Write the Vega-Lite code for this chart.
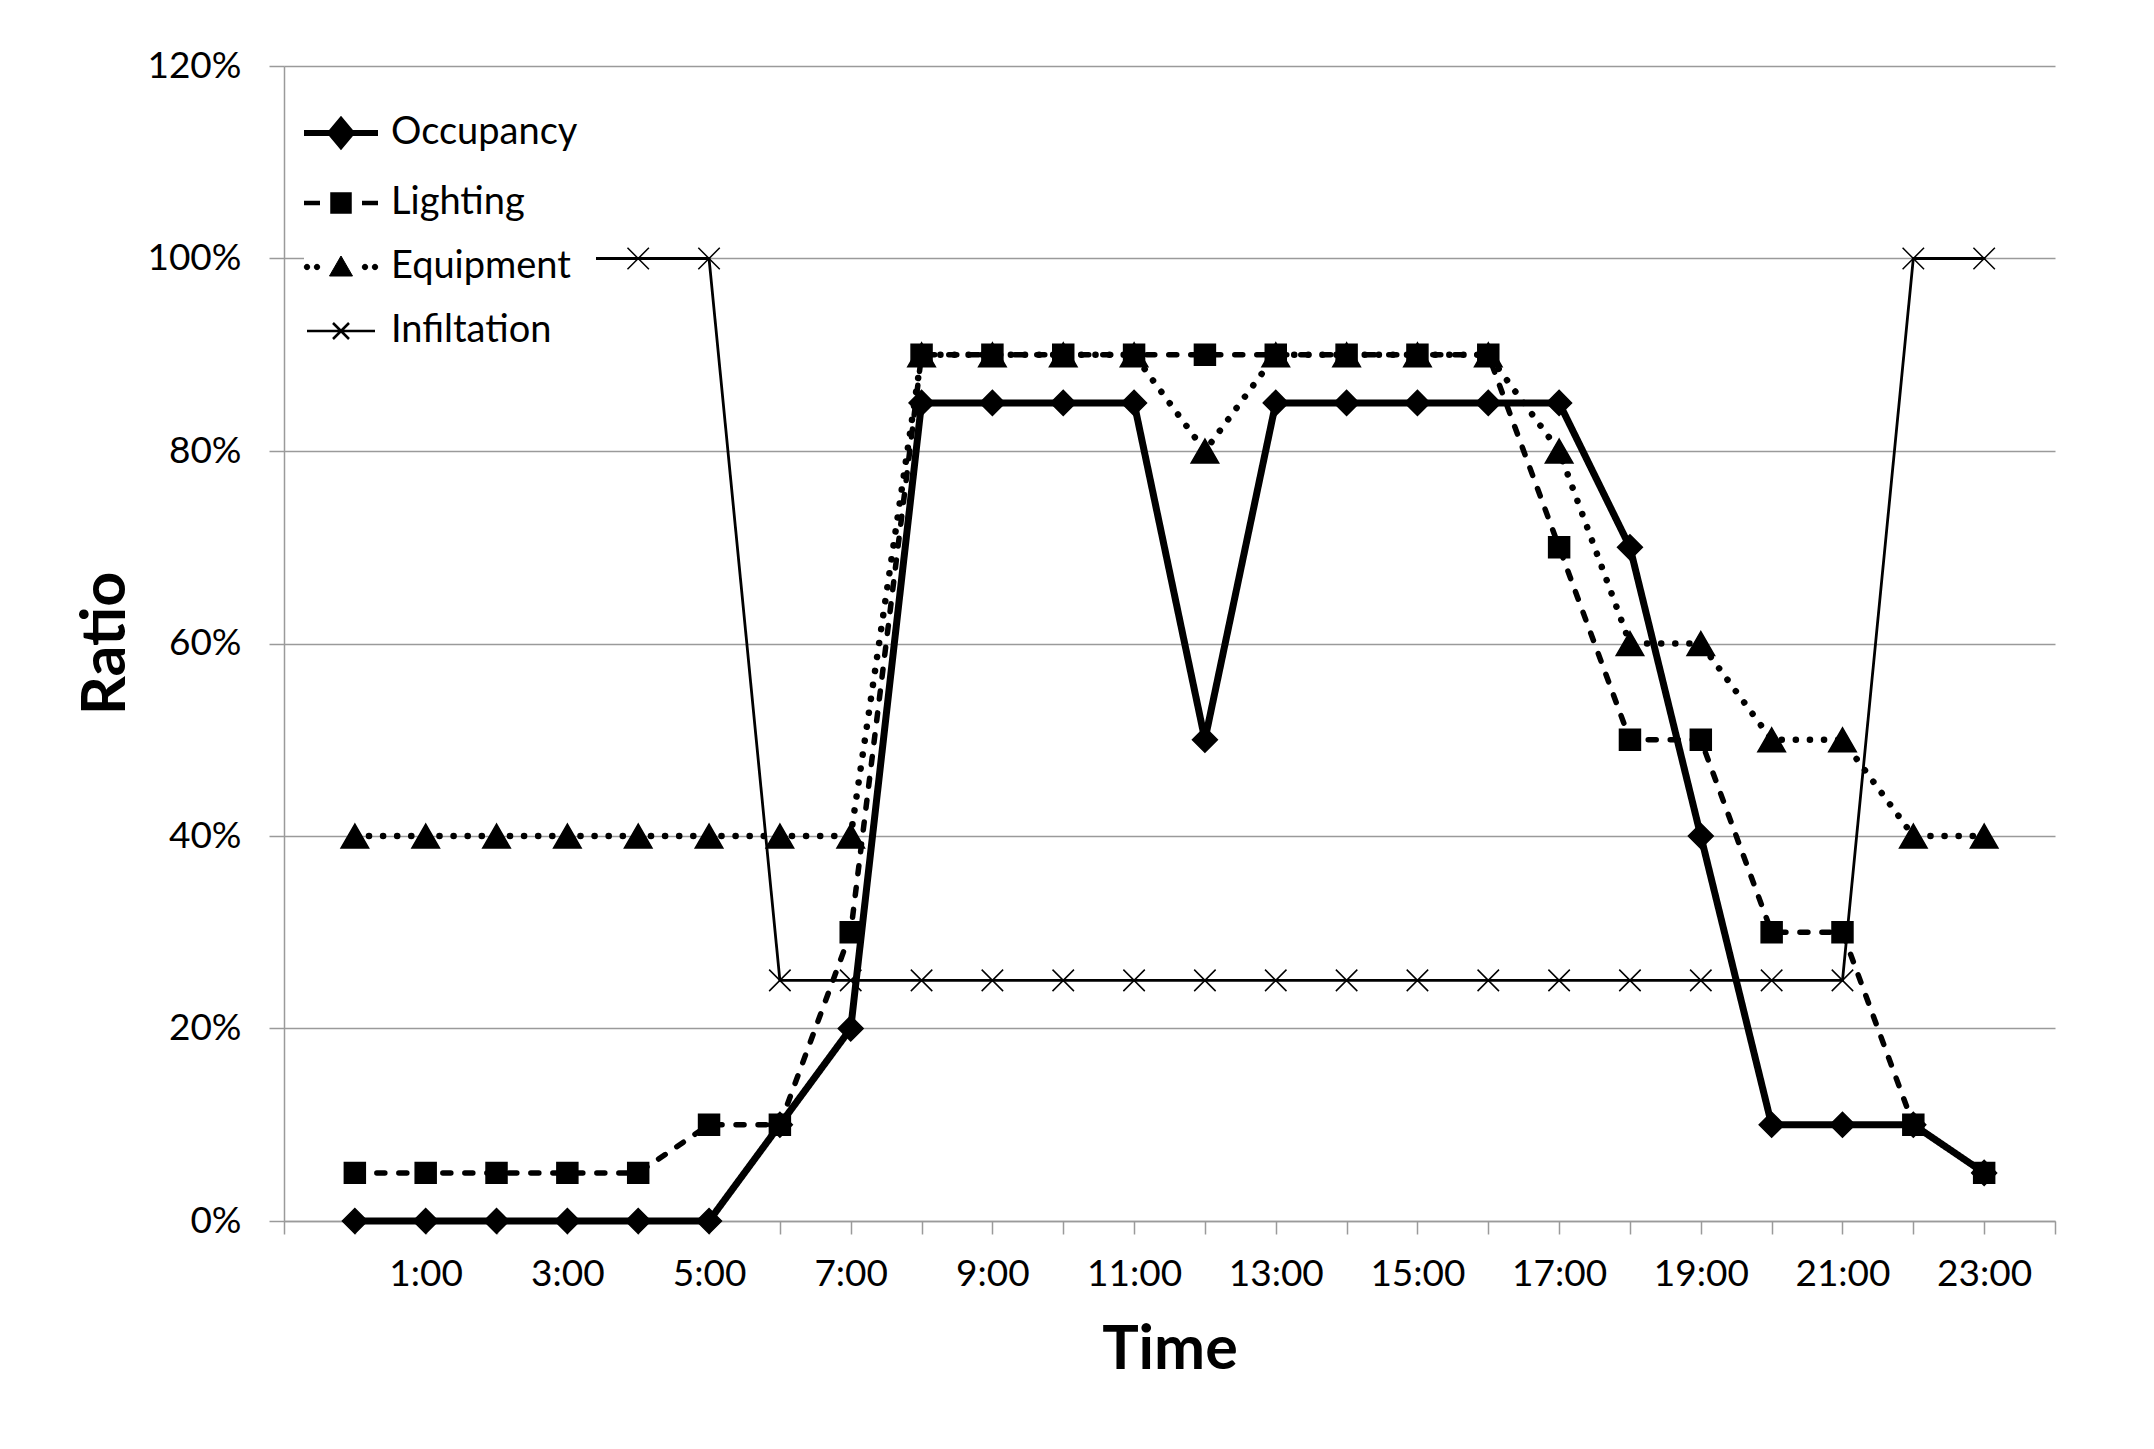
{
  "$schema": "https://vega.github.io/schema/vega-lite/v6.json",
  "width": 1771,
  "height": 1155,
  "autosize": {"type": "none"},
  "padding": {"left": 284, "top": 66, "right": 99, "bottom": 228},
  "background": "#ffffff",
  "config": {
    "font": "Lato",
    "view": {"stroke": null},
    "axis": {
      "labelFont": "Lato",
      "labelFontSize": 37,
      "labelColor": "#000000",
      "titleFont": "Lato",
      "titleFontSize": 61,
      "titleFontWeight": "bold",
      "titleColor": "#000000",
      "domainColor": "#9a9a9a",
      "domainWidth": 1.5,
      "tickColor": "#9a9a9a",
      "tickWidth": 1.5,
      "gridColor": "#9a9a9a",
      "gridWidth": 1.5
    },
    "legend": {
      "labelFont": "Lato",
      "labelFontSize": 38,
      "labelColor": "#000000",
      "labelLimit": 500
    }
  },
  "data": {
    "values": [
      {"h": 0, "s": "Occupancy", "v": 0}, {"h": 1, "s": "Occupancy", "v": 0},
      {"h": 2, "s": "Occupancy", "v": 0}, {"h": 3, "s": "Occupancy", "v": 0},
      {"h": 4, "s": "Occupancy", "v": 0}, {"h": 5, "s": "Occupancy", "v": 0},
      {"h": 6, "s": "Occupancy", "v": 0.1}, {"h": 7, "s": "Occupancy", "v": 0.2},
      {"h": 8, "s": "Occupancy", "v": 0.85}, {"h": 9, "s": "Occupancy", "v": 0.85},
      {"h": 10, "s": "Occupancy", "v": 0.85}, {"h": 11, "s": "Occupancy", "v": 0.85},
      {"h": 12, "s": "Occupancy", "v": 0.5}, {"h": 13, "s": "Occupancy", "v": 0.85},
      {"h": 14, "s": "Occupancy", "v": 0.85}, {"h": 15, "s": "Occupancy", "v": 0.85},
      {"h": 16, "s": "Occupancy", "v": 0.85}, {"h": 17, "s": "Occupancy", "v": 0.85},
      {"h": 18, "s": "Occupancy", "v": 0.7}, {"h": 19, "s": "Occupancy", "v": 0.4},
      {"h": 20, "s": "Occupancy", "v": 0.1}, {"h": 21, "s": "Occupancy", "v": 0.1},
      {"h": 22, "s": "Occupancy", "v": 0.1}, {"h": 23, "s": "Occupancy", "v": 0.05},

      {"h": 0, "s": "Lighting", "v": 0.05}, {"h": 1, "s": "Lighting", "v": 0.05},
      {"h": 2, "s": "Lighting", "v": 0.05}, {"h": 3, "s": "Lighting", "v": 0.05},
      {"h": 4, "s": "Lighting", "v": 0.05}, {"h": 5, "s": "Lighting", "v": 0.1},
      {"h": 6, "s": "Lighting", "v": 0.1}, {"h": 7, "s": "Lighting", "v": 0.3},
      {"h": 8, "s": "Lighting", "v": 0.9}, {"h": 9, "s": "Lighting", "v": 0.9},
      {"h": 10, "s": "Lighting", "v": 0.9}, {"h": 11, "s": "Lighting", "v": 0.9},
      {"h": 12, "s": "Lighting", "v": 0.9}, {"h": 13, "s": "Lighting", "v": 0.9},
      {"h": 14, "s": "Lighting", "v": 0.9}, {"h": 15, "s": "Lighting", "v": 0.9},
      {"h": 16, "s": "Lighting", "v": 0.9}, {"h": 17, "s": "Lighting", "v": 0.7},
      {"h": 18, "s": "Lighting", "v": 0.5}, {"h": 19, "s": "Lighting", "v": 0.5},
      {"h": 20, "s": "Lighting", "v": 0.3}, {"h": 21, "s": "Lighting", "v": 0.3},
      {"h": 22, "s": "Lighting", "v": 0.1}, {"h": 23, "s": "Lighting", "v": 0.05},

      {"h": 0, "s": "Equipment", "v": 0.4}, {"h": 1, "s": "Equipment", "v": 0.4},
      {"h": 2, "s": "Equipment", "v": 0.4}, {"h": 3, "s": "Equipment", "v": 0.4},
      {"h": 4, "s": "Equipment", "v": 0.4}, {"h": 5, "s": "Equipment", "v": 0.4},
      {"h": 6, "s": "Equipment", "v": 0.4}, {"h": 7, "s": "Equipment", "v": 0.4},
      {"h": 8, "s": "Equipment", "v": 0.9}, {"h": 9, "s": "Equipment", "v": 0.9},
      {"h": 10, "s": "Equipment", "v": 0.9}, {"h": 11, "s": "Equipment", "v": 0.9},
      {"h": 12, "s": "Equipment", "v": 0.8}, {"h": 13, "s": "Equipment", "v": 0.9},
      {"h": 14, "s": "Equipment", "v": 0.9}, {"h": 15, "s": "Equipment", "v": 0.9},
      {"h": 16, "s": "Equipment", "v": 0.9}, {"h": 17, "s": "Equipment", "v": 0.8},
      {"h": 18, "s": "Equipment", "v": 0.6}, {"h": 19, "s": "Equipment", "v": 0.6},
      {"h": 20, "s": "Equipment", "v": 0.5}, {"h": 21, "s": "Equipment", "v": 0.5},
      {"h": 22, "s": "Equipment", "v": 0.4}, {"h": 23, "s": "Equipment", "v": 0.4},

      {"h": 0, "s": "Infiltation", "v": 1}, {"h": 1, "s": "Infiltation", "v": 1},
      {"h": 2, "s": "Infiltation", "v": 1}, {"h": 3, "s": "Infiltation", "v": 1},
      {"h": 4, "s": "Infiltation", "v": 1}, {"h": 5, "s": "Infiltation", "v": 1},
      {"h": 6, "s": "Infiltation", "v": 0.25}, {"h": 7, "s": "Infiltation", "v": 0.25},
      {"h": 8, "s": "Infiltation", "v": 0.25}, {"h": 9, "s": "Infiltation", "v": 0.25},
      {"h": 10, "s": "Infiltation", "v": 0.25}, {"h": 11, "s": "Infiltation", "v": 0.25},
      {"h": 12, "s": "Infiltation", "v": 0.25}, {"h": 13, "s": "Infiltation", "v": 0.25},
      {"h": 14, "s": "Infiltation", "v": 0.25}, {"h": 15, "s": "Infiltation", "v": 0.25},
      {"h": 16, "s": "Infiltation", "v": 0.25}, {"h": 17, "s": "Infiltation", "v": 0.25},
      {"h": 18, "s": "Infiltation", "v": 0.25}, {"h": 19, "s": "Infiltation", "v": 0.25},
      {"h": 20, "s": "Infiltation", "v": 0.25}, {"h": 21, "s": "Infiltation", "v": 0.25},
      {"h": 22, "s": "Infiltation", "v": 1}, {"h": 23, "s": "Infiltation", "v": 1}
    ]
  },
  "encoding": {
    "x": {
      "field": "h",
      "type": "quantitative",
      "scale": {"domain": [-1, 24], "nice": false, "zero": false},
      "axis": {
        "title": "Time",
        "values": [-1, 0, 1, 2, 3, 4, 5, 6, 7, 8, 9, 10, 11, 12, 13, 14, 15, 16, 17, 18, 19, 20, 21, 22, 23, 24],
        "labelExpr": "datum.value % 2 == 1 ? datum.value + ':00' : ''",
        "grid": false,
        "tickSize": 13,
        "labelPadding": 22,
        "labelFlush": false,
        "labelOverlap": false,
        "titleY": 147,
        "titleBaseline": "alphabetic"
      }
    },
    "y": {
      "field": "v",
      "type": "quantitative",
      "scale": {"domain": [0, 1.2], "nice": false},
      "axis": {
        "title": "Ratio",
        "values": [0, 0.2, 0.4, 0.6, 0.8, 1.0, 1.2],
        "format": ".0%",
        "grid": true,
        "tickSize": 15,
        "labelPadding": 28,
        "titleX": -160,
        "titleY": 577,
        "titleBaseline": "alphabetic"
      }
    }
  },
  "layer": [
    {
      "mark": {"type": "line", "color": "#000000", "strokeCap": "round", "strokeJoin": "round"},
      "encoding": {
        "detail": {"field": "s"},
        "strokeDash": {
          "field": "s",
          "type": "nominal",
          "scale": {
            "domain": ["Infiltation", "Equipment", "Lighting", "Occupancy"],
            "range": [[1, 0], [0.1, 14], [8, 14], [1, 0]]
          },
          "legend": null
        },
        "strokeWidth": {
          "field": "s",
          "type": "nominal",
          "scale": {
            "type": "ordinal",
            "domain": ["Infiltation", "Equipment", "Lighting", "Occupancy"],
            "range": [2.8, 6.5, 5.5, 7]
          },
          "legend": null
        }
      }
    },
    {
      "mark": {"type": "point", "filled": true, "color": "#000000", "stroke": "#000000", "strokeWidth": 1.5, "opacity": 1},
      "encoding": {
        "shape": {
          "field": "s",
          "type": "nominal",
          "scale": {
            "domain": ["Infiltation", "Equipment", "Lighting", "Occupancy"],
            "range": ["M-1,-1L1,1M-1,1L1,-1", "triangle-up", "square", "diamond"]
          },
          "legend": null
        },
        "size": {
          "field": "s",
          "type": "nominal",
          "scale": {
            "type": "ordinal",
            "domain": ["Infiltation", "Equipment", "Lighting", "Occupancy"],
            "range": [460, 760, 440, 620]
          },
          "legend": null
        }
      }
    },
    {
      "transform": [{"filter": "datum.h < 0"}],
      "mark": {"type": "point", "filled": true, "color": "#000000", "stroke": "#000000", "opacity": 1, "size": 400},
      "encoding": {
        "shape": {
          "field": "s",
          "type": "nominal",
          "scale": {
            "domain": ["Occupancy", "Lighting", "Equipment", "Infiltation"],
            "range": [
              "M-3.7,0H3.7M0,-1.25L1.05,0L0,1.25L-1.05,0Z",
              "M-3.7,0H-2.1M2.1,0H3.7M-0.85,-0.85H0.85V0.85H-0.85Z",
              "M-3.67,0a0.27,0.27 0 1,0 0.54,0a0.27,0.27 0 1,0 -0.54,0ZM-2.67,0a0.27,0.27 0 1,0 0.54,0a0.27,0.27 0 1,0 -0.54,0ZM2.13,0a0.27,0.27 0 1,0 0.54,0a0.27,0.27 0 1,0 -0.54,0ZM3.13,0a0.27,0.27 0 1,0 0.54,0a0.27,0.27 0 1,0 -0.54,0ZM0,-1.1L1.15,0.9H-1.15Z",
              "M-3.4,0H3.4M-0.8,-0.8L0.8,0.8M-0.8,0.8L0.8,-0.8"
            ]
          },
          "legend": {
            "title": null,
            "orient": "none",
            "legendX": 20,
            "legendY": 30,
            "padding": 18,
            "fillColor": "#ffffff",
            "symbolSize": 400,
            "labelOffset": 31,
            "rowPadding": 26,
            "labelBaseline": "middle"
          }
        },
        "strokeWidth": {
          "field": "s",
          "type": "nominal",
          "scale": {
            "type": "ordinal",
            "domain": ["Occupancy", "Lighting", "Equipment", "Infiltation"],
            "range": [6, 4.5, 1, 2.5]
          }
        }
      }
    }
  ],
  "resolve": {
    "scale": {"shape": "independent", "size": "independent", "strokeDash": "independent", "strokeWidth": "independent"}
  }
}
